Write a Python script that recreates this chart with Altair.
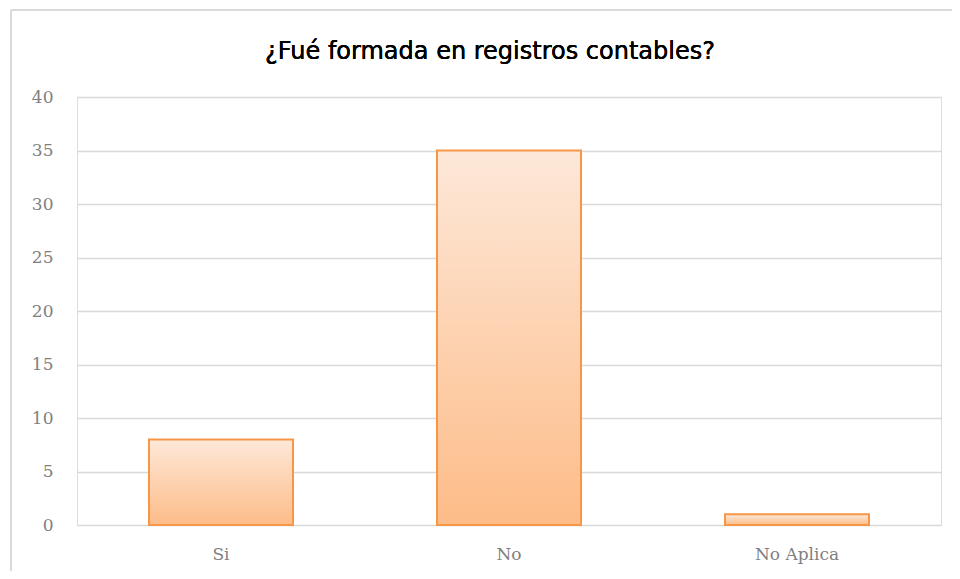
import altair as alt
import pandas as pd

categories = ["Si", "No", "No Aplica"]
counts = [8, 35, 1]
y_ticks = [0, 5, 10, 15, 20, 25, 30, 35, 40]
title_text = "¿Fué formada en registros contables?"

df = pd.DataFrame({"respuesta": categories, "cantidad": counts})

gradient = alt.Gradient(
    gradient="linear",
    stops=[
        alt.GradientStop(color="#fde8d9", offset=0),
        alt.GradientStop(color="#fdbc88", offset=1),
    ],
    x1=0, x2=0, y1=0, y2=1,
)

bars = alt.Chart(df).mark_bar(
    fill=gradient, stroke="#f79646", strokeWidth=2
).encode(
    x=alt.X(
        "respuesta:N",
        sort=categories,
        title=None,
        scale=alt.Scale(paddingInner=0.5, paddingOuter=0.25),
        axis=alt.Axis(
            labelAngle=0, ticks=False, domain=False, grid=False,
            labelFont="DejaVu Serif", labelFontSize=17, labelColor="#7f7f7f",
            labelPadding=21,
        ),
    ),
    y=alt.Y(
        "cantidad:Q",
        title=None,
        scale=alt.Scale(domain=[0, 40], nice=False),
        axis=alt.Axis(
            values=y_ticks, ticks=False, domain=False, grid=True,
            gridColor="#d9d9d9", gridWidth=1.3,
            labelFont="DejaVu Serif", labelFontSize=17, labelColor="#7f7f7f",
            labelPadding=24,
        ),
    ),
)

border_left = alt.Chart(df).mark_rule(color="#d9d9d9", strokeWidth=2).encode(
    x=alt.value(-66), y=alt.value(-87), y2=alt.value(480)
)
border_top = alt.Chart(df).mark_rule(color="#d9d9d9", strokeWidth=2).encode(
    x=alt.value(-66), x2=alt.value(880), y=alt.value(-87)
)
title = alt.Chart(df).mark_text(
    font="DejaVu Sans", fontSize=24, color="#000000",
    align="center", baseline="alphabetic",
).encode(
    text=alt.value(title_text), x=alt.value(413), y=alt.value(-38)
)

chart = alt.layer(border_left, border_top, title, bars).properties(
    width=864,
    height=428,
    autosize=alt.AutoSizeParams(type="none"),
    padding={"left": 69, "top": 89, "right": 11, "bottom": 46},
).configure_view(stroke=None, fill="white").configure(background="white")

chart.save("out.html", embed_options={"renderer": "svg", "actions": False})
